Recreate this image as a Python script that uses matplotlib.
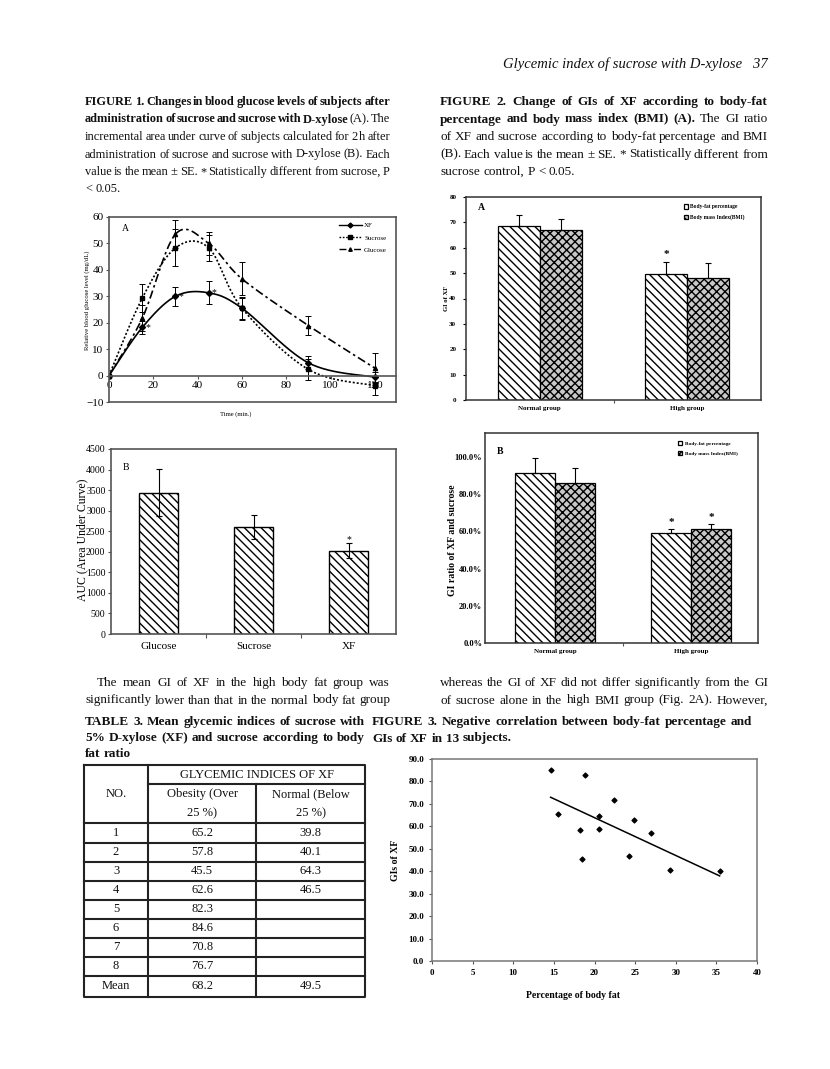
import matplotlib
matplotlib.use('Agg')
import matplotlib.pyplot as plt
import numpy as np
from matplotlib.lines import Line2D

SERIF = ['Liberation Serif', 'DejaVu Serif']
plt.rcParams['font.family'] = SERIF
plt.rcParams['hatch.linewidth'] = 1.0

# ---------------- data ----------------
# Figure 1A: blood glucose change (mg/dL) vs time
time_min = [0, 15, 30, 45, 60, 90, 120]
xf_glucose = [0, 18.2, 30.0, 31.3, 25.5, 4.8, -0.6]
xf_se = [0, 2.5, 3.5, 4.3, 4.3, 2.5, 2.0]
suc_glucose = [0, 29.3, 48.3, 48.3, 25.5, 2.3, -3.8]
suc_se = [0, 5.3, 7.0, 4.8, 4.0, 3.9, 3.4]
glu_glucose = [0, 21.7, 53.5, 50.0, 36.6, 18.9, 2.8]
glu_se = [0, 5.0, 5.3, 4.5, 6.3, 3.6, 5.6]

# Figure 1B: AUC
auc_labels = ['Glucose', 'Sucrose', 'XF']
auc_mean = [3440, 2600, 2025]
auc_se = [570, 290, 180]

# Figure 2: GI by group
groups = ['Normal group', 'High group']
gi_bf = [68.5, 49.6]
gi_bf_se = [4.6, 4.9]
gi_bmi = [67.0, 47.9]
gi_bmi_se = [4.3, 5.9]
ratio_bf = [91.6, 59.3]
ratio_bf_se = [8.0, 2.1]
ratio_bmi = [86.1, 61.1]
ratio_bmi_se = [8.0, 2.7]

# Figure 3: body fat vs GI of XF
body_fat = [14.6, 18.8, 22.4, 15.5, 20.5, 24.9, 18.2, 20.6, 26.9, 18.5, 24.3, 29.3, 35.4]
gi_xf = [85.1, 83.0, 71.9, 65.5, 64.6, 62.8, 58.2, 58.8, 57.2, 45.6, 46.8, 40.4, 39.9]

# Table 3
table_no = ['1', '2', '3', '4', '5', '6', '7', '8', 'Mean']
table_obesity = ['65.2', '57.8', '45.5', '62.6', '82.3', '84.6', '70.8', '76.7', '68.2']
table_normal = ['39.8', '40.1', '64.3', '46.5', '', '', '', '', '49.5']

# page text
fig1_caption = [
    [('FIGURE 1. Changes in blood glucose levels of subjects after', True)],
    [('administration of sucrose and sucrose with D-xylose', True), ('(A). The', False)],
    [('incremental area under curve of subjects calculated for 2 h after', False)],
    [('administration of sucrose and sucrose with D-xylose (B). Each', False)],
    [('value is the mean \u00b1 SE. *  Statistically different from sucrose, P', False)],
    [('< 0.05.', False)],
]
fig2_caption = [
    [('FIGURE 2. Change of GIs of XF according to body-fat', True)],
    [('percentage and body mass index (BMI) (A).', True), ('The GI ratio', False)],
    [('of XF and sucrose according to body-fat percentage and BMI', False)],
    [('(B). Each value is the mean \u00b1 SE. * Statistically different from', False)],
    [('sucrose control, P < 0.05.', False)],
]
para_left = [
    [('The mean GI of XF in the high body fat group was', False)],
    [('significantly lower than that in the normal body fat group', False)],
]
para_right = [
    [('whereas the GI of XF did not differ significantly from the GI', False)],
    [('of sucrose alone in the high BMI group (Fig. 2A). However,', False)],
]
table_title = [
    [('TABLE 3. Mean glycemic indices of sucrose with', True)],
    [('5% D-xylose (XF) and sucrose according to body', True)],
    [('fat ratio', True)],
]
fig3_caption = [
    [('FIGURE 3. Negative correlation between body-fat percentage and', True)],
    [('GIs of XF in 13 subjects.', True)],
]

# ---------------- page ----------------
W, H = 830, 1069
fig = plt.figure(figsize=(W / 100, H / 100), dpi=100)
page = fig.add_axes([0, 0, 1, 1], zorder=-1)
page.set_xlim(0, W)
page.set_ylim(H, 0)
page.axis('off')
renderer = fig.canvas.get_renderer()


def text_width(s, size, weight='normal'):
    t = page.text(0, 0, s, fontsize=size, fontweight=weight)
    w = t.get_window_extent(renderer).width
    t.remove()
    return w


def words_of(line):
    return [(w, 'bold' if b else 'normal') for txt, b in line for w in txt.split()]


def block(lines, x0, x1, y0, step, size, indent=0, justify_last=False, min_gap=0.6):
    # shrink the font only when a line cannot fit even with tightened word gaps
    space = text_width('a a', size) - text_width('aa', size)
    widest = 0
    for i, line in enumerate(lines):
        ws = words_of(line)
        nat = sum(text_width(w, size, wt) for w, wt in ws) + min_gap * space * (len(ws) - 1)
        widest = max(widest, nat / (x1 - x0 - (indent if i == 0 else 0)))
    if widest > 1.0:
        size = size / widest
        space = text_width('a a', size) - text_width('aa', size)
    for i, line in enumerate(lines):
        ws = words_of(line)
        widths = [text_width(w, size, wt) for w, wt in ws]
        left = x0 + (indent if i == 0 else 0)
        last = i == len(lines) - 1
        if (not last or justify_last) and len(ws) > 1:
            gap = (x1 - left - sum(widths)) / (len(ws) - 1)
        else:
            gap = space
        x = left
        for (w, wt), wd in zip(ws, widths):
            page.text(x, y0 + i * step, w, fontsize=size, fontweight=wt,
                      va='baseline', ha='left', color='#111111')
            x += wd + gap


def px_axes(left, top, right, bottom):
    return fig.add_axes([left / W, 1 - bottom / H, (right - left) / W, (bottom - top) / H])


def smooth(x, y, n=30):
    x = np.asarray(x, float)
    y = np.asarray(y, float)
    px = np.r_[x[0], x, x[-1]]
    py = np.r_[y[0], y, y[-1]]
    s = np.linspace(0, 1, n, endpoint=False)
    h00 = 2 * s**3 - 3 * s**2 + 1
    h10 = s**3 - 2 * s**2 + s
    h01 = -2 * s**3 + 3 * s**2
    h11 = s**3 - s**2
    xs, ys = [], []
    for i in range(1, len(px) - 2):
        for p, out in ((px, xs), (py, ys)):
            p0, p1, p2, p3 = p[i - 1:i + 3]
            out.extend(h00 * p1 + h10 * (p2 - p0) / 2 + h01 * p2 + h11 * (p3 - p1) / 2)
    xs.append(x[-1])
    ys.append(y[-1])
    return np.array(xs), np.array(ys)


FRAME = '#555555'
HATCH1 = '\\\\\\\\'
HATCH2 = 'xxxx'

page.text(768, 68, 'Glycemic index of sucrose with D-xylose   37', ha='right',
          va='baseline', fontsize=10.5, style='italic', color='#111111')
block(fig1_caption, 85, 390, 105, 17.5, 9.3, min_gap=0.35)
block(fig2_caption, 440, 768, 105, 17.5, 9.5)
block(para_left, 85, 390, 686, 17.5, 9.5, indent=12, justify_last=True)
block(para_right, 440, 768, 686, 17.5, 9.5, justify_last=True)
block(table_title, 85, 365, 725, 16.2, 9.5)
block(fig3_caption, 372, 752, 725, 16.5, 9.5)

# ---------------- Figure 1A ----------------
ax = px_axes(109, 217, 396, 402)
series = [
    (xf_glucose, xf_se, '-', 'D', 'XF'),
    (suc_glucose, suc_se, (0, (1.2, 1.2)), 's', 'Sucrose'),
    (glu_glucose, glu_se, (0, (5, 2, 1.5, 2)), '^', 'Glucose'),
]
handles = []
for vals, se, ls, mk, lab in series:
    sx, sy = smooth(time_min, vals)
    ax.plot(sx, sy, color='black', ls=ls, lw=1.2)
    ax.errorbar(time_min, vals, yerr=se, fmt=mk, color='black', ms=3,
                elinewidth=0.7, capsize=2, capthick=0.7)
    handles.append(Line2D([], [], color='black', ls=ls, lw=1.0, marker=mk, ms=2.5, label=lab))
for i in (1, 2, 3):
    ax.annotate('*', (time_min[i], xf_glucose[i]), xytext=(4, 0), textcoords='offset points',
                fontsize=7, ha='center', va='center')
ax.set_xlim(0, 129.5)
ax.set_ylim(-10, 60)
ax.spines['bottom'].set_position(('data', 0))
ax.axhline(-10, color=FRAME, lw=1.2, clip_on=False)
for sp in ax.spines.values():
    sp.set_color(FRAME)
    sp.set_linewidth(1.2)
ax.set_xticks(range(0, 121, 20))
ax.set_yticks(range(-10, 61, 10))
ax.tick_params(labelsize=8, length=2.5, width=0.8, color=FRAME, pad=1.5)
ax.legend(handles=handles, loc='upper left', bbox_to_anchor=(0.79, 0.985), fontsize=5,
          frameon=False, handlelength=3.4, labelspacing=0.9, handletextpad=0.3,
          borderaxespad=0)
ax.text(0.045, 0.94, 'A', transform=ax.transAxes, fontsize=7, va='center')
page.text(87, 300, 'Relative blood glucose level (mg/dL)', rotation=90, ha='center',
          va='center', fontsize=4.8)
page.text(236, 414, 'Time (min.)', ha='center', va='center', fontsize=4.8)

# ---------------- Figure 1B ----------------
ax = px_axes(111, 449, 396, 634)
pos = np.arange(len(auc_labels))
ax.bar(pos, auc_mean, width=0.41, color='white', edgecolor='black', hatch=HATCH1, lw=1)
ax.errorbar(pos, auc_mean, yerr=auc_se, fmt='none', ecolor='black', elinewidth=0.8,
            capsize=2.5, capthick=0.8)
ax.text(pos[2], auc_mean[2] + auc_se[2] + 90, '*', ha='center', va='center', fontsize=7)
ax.set_xlim(-0.5, 2.5)
ax.set_ylim(0, 4500)
ax.set_yticks(range(0, 4501, 500))
ax.set_xticks(pos)
ax.set_xticklabels(auc_labels, fontsize=8)
ax.set_xticks([0.5, 1.5], minor=True)
ax.tick_params(axis='x', which='major', length=0, pad=6)
ax.tick_params(axis='x', which='minor', length=3, width=0.8, color=FRAME)
ax.tick_params(axis='y', labelsize=7, length=2.5, width=0.8, color=FRAME, pad=1.5)
for sp in ax.spines.values():
    sp.set_color(FRAME)
    sp.set_linewidth(1.2)
ax.text(0.04, 0.9, 'B', transform=ax.transAxes, fontsize=7, va='center')
page.text(82, 540, 'AUC (Area Under Curve)', rotation=90, ha='center', va='center', fontsize=8.5)


# ---------------- Figure 2A / 2B ----------------
def group_bars(ax, v1, e1, v2, e2, w):
    pos = np.arange(len(groups))
    ax.bar(pos - w / 2, v1, w, color='white', edgecolor='black', hatch=HATCH1, lw=0.9,
           label='Body-fat percentage')
    ax.bar(pos + w / 2, v2, w, color='#c8c8c8', edgecolor='black', hatch=HATCH2, lw=0.9,
           label='Body mass Index(BMI)')
    ax.errorbar(pos - w / 2, v1, yerr=[np.zeros(len(e1)), e1], fmt='none', ecolor='black',
                elinewidth=0.8, capsize=2.5, capthick=0.8)
    ax.errorbar(pos + w / 2, v2, yerr=[np.zeros(len(e2)), e2], fmt='none', ecolor='black',
                elinewidth=0.8, capsize=2.5, capthick=0.8)
    ax.set_xticks(pos)
    ax.set_xticklabels(groups, fontsize=5, fontweight='bold')
    ax.set_xticks([0.5], minor=True)
    ax.tick_params(axis='x', which='major', length=0, pad=4)
    ax.tick_params(axis='x', which='minor', length=2.5, width=0.8, color=FRAME)
    for sp in ax.spines.values():
        sp.set_color('#333333')
        sp.set_linewidth(1.1)
    return pos


ax = px_axes(466, 197, 761, 400)
pos = group_bars(ax, gi_bf, gi_bf_se, gi_bmi, gi_bmi_se, 0.285)
ax.text(pos[1] - 0.1425, gi_bf[1] + gi_bf_se[1] + 3, '*', ha='center', va='center',
        fontsize=8, fontweight='bold')
ax.set_xlim(-0.5, 1.5)
ax.set_ylim(0, 80)
ax.set_yticks(range(0, 81, 10))
ax.tick_params(axis='y', labelsize=5, length=2, width=0.8, pad=5)
for lb in ax.get_yticklabels():
    lb.set_fontweight('bold')
ax.legend(loc='upper left', bbox_to_anchor=(0.73, 0.975), frameon=False,
          handlelength=0.8, handleheight=0.8, handletextpad=0.4, labelspacing=0.9,
          borderaxespad=0, prop={'weight': 'bold', 'size': 4})
ax.text(0.04, 0.95, 'A', transform=ax.transAxes, fontsize=7, fontweight='bold', va='center')
page.text(446, 298, 'GI of XF', rotation=90, ha='center', va='center', fontsize=4.8,
          fontweight='bold')

ax = px_axes(485, 433, 758, 643)
pos = group_bars(ax, ratio_bf, ratio_bf_se, ratio_bmi, ratio_bmi_se, 0.294)
for v, e, off in ((ratio_bf, ratio_bf_se, -0.147), (ratio_bmi, ratio_bmi_se, 0.147)):
    ax.text(pos[1] + off, v[1] + e[1] + 3.5, '*', ha='center', va='center', fontsize=8,
            fontweight='bold')
ax.set_xlim(-0.515, 1.49)
ax.set_ylim(0, 113)
ax.set_yticks(range(0, 101, 20))
ax.set_yticklabels(['%.1f%%' % v for v in range(0, 101, 20)])
ax.tick_params(axis='y', labelsize=6, length=0, pad=2)
for lb in ax.get_yticklabels():
    lb.set_fontweight('bold')
ax.legend(loc='upper left', bbox_to_anchor=(0.70, 0.97), frameon=False,
          handlelength=0.8, handleheight=0.8, handletextpad=0.4, labelspacing=0.9,
          borderaxespad=0, prop={'weight': 'bold', 'size': 3.8})
ax.text(0.045, 0.91, 'B', transform=ax.transAxes, fontsize=7, fontweight='bold', va='center')
page.text(452, 540, 'GI ratio of XF and sucrose', rotation=90, ha='center', va='center',
          fontsize=7, fontweight='bold')

# ---------------- Figure 3 ----------------
ax = px_axes(432, 759, 757, 961)
ax.scatter(body_fat, gi_xf, marker='D', s=6, color='black', zorder=3)
coef = np.polyfit(body_fat, gi_xf, 1)
xx = np.array([min(body_fat), max(body_fat)])
ax.plot(xx, np.polyval(coef, xx), color='black', lw=1.1)
ax.set_xlim(0, 40)
ax.set_ylim(0, 90)
ax.set_xticks(range(0, 41, 5))
ax.set_yticks(range(0, 91, 10))
ax.set_yticklabels(['%.1f' % v for v in range(0, 91, 10)])
ax.tick_params(labelsize=6.5, length=2.5, width=0.8, color=FRAME, pad=3)
for lb in ax.get_xticklabels() + ax.get_yticklabels():
    lb.set_fontweight('bold')
for sp in ax.spines.values():
    sp.set_color('#777777')
    sp.set_linewidth(1.1)
page.text(395, 860, 'GIs of XF', rotation=90, ha='center', va='center', fontsize=7,
          fontweight='bold')
page.text(573, 996, 'Percentage of body fat', ha='center', va='center', fontsize=7,
          fontweight='bold')

# ---------------- Table 3 ----------------
col_x = [84, 148, 256, 365]
row_y = [765, 784, 823, 842.5, 861.5, 880.5, 899.5, 918.5, 937.5, 956.5, 975.5, 997]
lk = dict(color='#222222', lw=1.5)
page.plot([col_x[0], col_x[-1], col_x[-1], col_x[0], col_x[0]],
          [row_y[0], row_y[0], row_y[-1], row_y[-1], row_y[0]], **lk)
page.plot([col_x[1], col_x[1]], [row_y[0], row_y[-1]], **lk)
page.plot([col_x[2], col_x[2]], [row_y[1], row_y[-1]], **lk)
page.plot([col_x[1], col_x[3]], [row_y[1], row_y[1]], **lk)
for y in row_y[2:-1]:
    page.plot([col_x[0], col_x[3]], [y, y], **lk)
tk = dict(ha='center', va='center', fontsize=9, color='#111111')
page.text((col_x[1] + col_x[3]) / 2, 775.5, 'GLYCEMIC INDICES OF XF', **tk)
page.text((col_x[0] + col_x[1]) / 2, 794, 'NO.', **tk)
page.text((col_x[1] + col_x[2]) / 2, 794, 'Obesity (Over', **tk)
page.text((col_x[1] + col_x[2]) / 2, 813, '25 %)', **tk)
page.text((col_x[2] + col_x[3]) / 2, 794, 'Normal (Below', **tk)
page.text((col_x[2] + col_x[3]) / 2, 813, '25 %)', **tk)
for i, (n, ob, nm) in enumerate(zip(table_no, table_obesity, table_normal)):
    yc = (row_y[i + 2] + row_y[i + 3]) / 2
    page.text((col_x[0] + col_x[1]) / 2, yc, n, **tk)
    page.text((col_x[1] + col_x[2]) / 2, yc, ob, **tk)
    page.text((col_x[2] + col_x[3]) / 2, yc, nm, **tk)

fig.savefig('out.png', dpi=100)
